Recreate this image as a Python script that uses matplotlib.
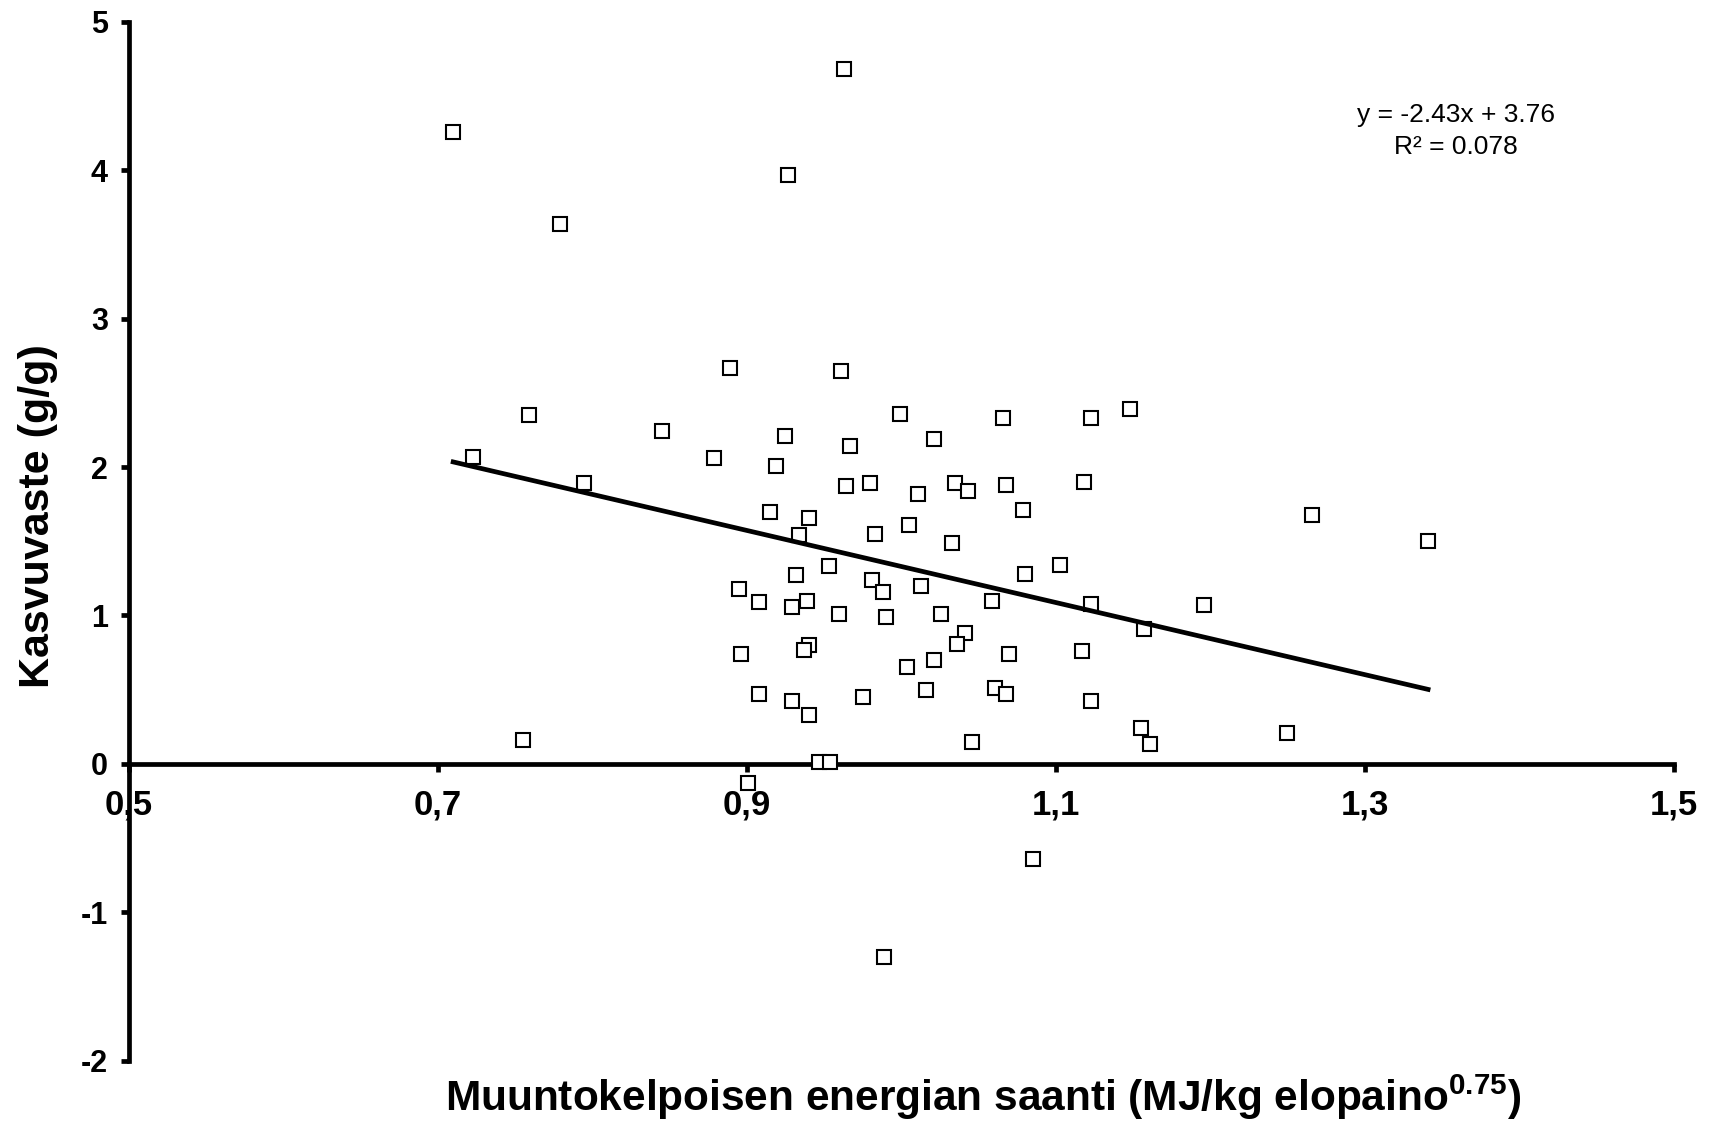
import numpy as np
import matplotlib.pyplot as plt

# energian saanti (MJ/kg elopaino^0.75) ja kasvuvaste (g/g)
energia = [0.710, 0.963, 0.927, 0.779, 0.889, 0.961, 0.759, 0.845, 0.723, 0.879,
           0.925, 0.919, 0.999, 0.967, 1.021, 1.066, 1.123, 1.148, 0.795, 0.964,
           0.980, 1.011, 1.035, 1.043, 1.068, 1.118, 1.079, 0.915, 0.940, 0.934,
           0.983, 1.005, 1.033, 1.266, 1.341, 0.953, 0.932, 0.981, 1.013, 1.080,
           1.103, 0.895, 0.908, 0.929, 0.939, 0.988, 0.960, 0.990, 1.026, 1.059,
           1.123, 1.196, 1.157, 1.041, 1.036, 0.940, 0.937, 0.896, 1.070, 1.117,
           1.004, 1.021, 0.975, 1.016, 1.061, 1.068, 0.908, 0.929, 0.940, 1.123,
           0.755, 1.046, 1.155, 1.161, 1.250, 0.947, 0.954, 0.901, 1.085, 0.989]
kasvu = [4.26, 4.68, 3.97, 3.64, 2.67, 2.65, 2.35, 2.24, 2.07, 2.06,
         2.21, 2.01, 2.36, 2.14, 2.19, 2.33, 2.33, 2.39, 1.89, 1.87,
         1.89, 1.82, 1.89, 1.84, 1.88, 1.90, 1.71, 1.70, 1.66, 1.54,
         1.55, 1.61, 1.49, 1.68, 1.50, 1.33, 1.27, 1.24, 1.20, 1.28,
         1.34, 1.18, 1.09, 1.06, 1.10, 1.16, 1.01, 0.99, 1.01, 1.10,
         1.08, 1.07, 0.91, 0.88, 0.81, 0.80, 0.77, 0.74, 0.74, 0.76,
         0.65, 0.70, 0.45, 0.50, 0.51, 0.47, 0.47, 0.42, 0.33, 0.42,
         0.16, 0.15, 0.24, 0.13, 0.21, 0.01, 0.01, -0.13, -0.64, -1.30]

# trendiviiva
kulmakerroin = -2.43
vakio = 3.76
r2 = 0.078

x_ticks = [0.5, 0.7, 0.9, 1.1, 1.3, 1.5]
x_labels = ['0,5', '0,7', '0,9', '1,1', '1,3', '1,5']
y_ticks = [-2, -1, 0, 1, 2, 3, 4, 5]

plt.rcParams['font.family'] = ['Liberation Sans', 'DejaVu Sans']
plt.rcParams['axes.unicode_minus'] = False
plt.rcParams['mathtext.fontset'] = 'custom'
plt.rcParams['mathtext.rm'] = 'Liberation Sans:bold'
plt.rcParams['mathtext.bf'] = 'Liberation Sans:bold'

fig = plt.figure(figsize=(17.23, 11.27), dpi=100)
ax = fig.add_axes([0.0747, 0.059, 0.8967, 0.9215])

ax.plot(energia, kasvu, 's', markersize=10, markerfacecolor='white',
        markeredgecolor='black', markeredgewidth=1.5, zorder=3)

xs = np.array([min(energia), max(energia)])
ax.plot(xs, kulmakerroin * xs + vakio, color='black', linewidth=3.4, zorder=4)

yhtalo = 'y = %.2fx + %.2f\nR\u00b2 = %.3f' % (kulmakerroin, vakio, r2)
ax.text(0.859, 0.895, yhtalo, transform=ax.transAxes,
        ha='center', va='center', fontsize=19, linespacing=1.4)

ax.set_xlim(0.5, 1.5)
ax.set_ylim(-2, 5)
ax.spines['top'].set_visible(False)
ax.spines['right'].set_visible(False)
ax.spines['bottom'].set_position(('data', 0))
ax.spines['left'].set_linewidth(3.4)
ax.spines['bottom'].set_linewidth(3.4)

ax.set_xticks(x_ticks)
ax.set_xticklabels(x_labels)
ax.set_yticks(y_ticks)
ax.tick_params(axis='both', width=3.4, length=6)
ax.tick_params(axis='x', pad=12, labelsize=25)
ax.tick_params(axis='y', pad=9, labelsize=22)
for t in ax.get_xticklabels() + ax.get_yticklabels():
    t.set_fontweight('bold')

ax.set_xlabel('Muuntokelpoisen energian saanti (MJ/kg elopaino$^{0.75}$)',
              fontsize=30.5, fontweight='bold', va='center')
ax.xaxis.set_label_coords(0.553, -0.035)
ax.set_ylabel('Kasvuvaste (g/g)', fontsize=31, fontweight='bold', va='center')
ax.yaxis.set_label_coords(-0.059, 0.524)

fig.savefig('out.png', dpi=100)
